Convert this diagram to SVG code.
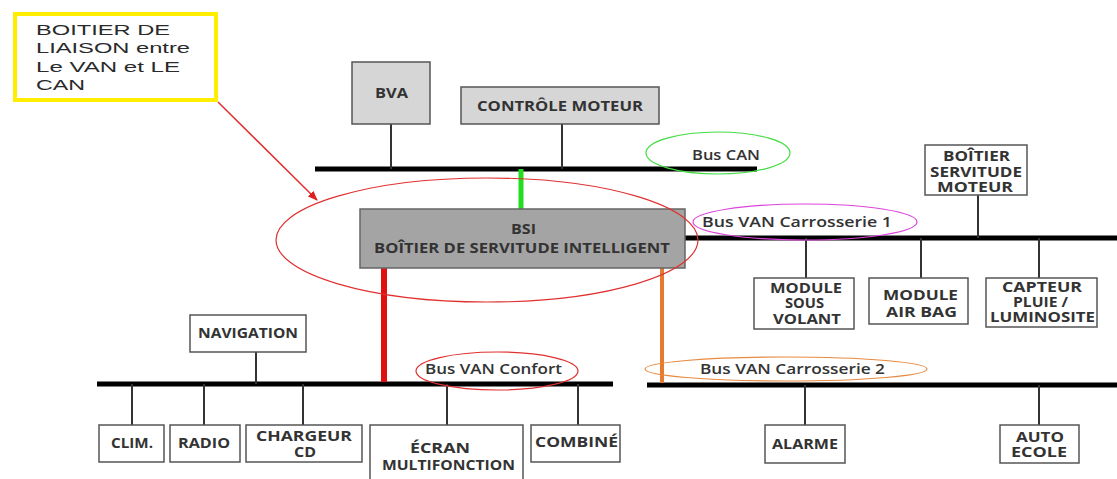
<svg xmlns="http://www.w3.org/2000/svg" width="1117" height="479" viewBox="0 0 1117 479">
<style>
.box{fill:#fff;stroke:#555;stroke-width:1.5}
.gbox{fill:#d6d6d6;stroke:#555;stroke-width:1.5}
.t{font-family:"Open Sans","Liberation Sans",sans-serif;font-weight:700;font-size:13.5px;fill:#333}
.bus{stroke:#000;stroke-width:5;fill:none}
.drop{stroke:#333;stroke-width:2;fill:none}
.lbl{font-family:"Open Sans","Liberation Sans",sans-serif;font-weight:600;font-size:13.5px;fill:#333}
.note{font-family:"Liberation Sans",Arial,sans-serif;font-size:14px;fill:#2a2a2a}
</style>
<defs>
<marker id="ah" markerWidth="10" markerHeight="8" refX="9" refY="4" orient="auto" markerUnits="userSpaceOnUse">
<path d="M0,0 L10,4 L0,8 z" fill="#e02020"/>
</marker>
</defs>
<rect width="1117" height="479" fill="#fff"/>

<g id="connectors">
<line class="bus" x1="315" y1="169" x2="757" y2="169"/>
<line class="bus" x1="685" y1="238" x2="1117" y2="238"/>
<line class="bus" x1="97" y1="384" x2="613" y2="384"/>
<line class="bus" x1="647" y1="385" x2="1117" y2="385"/>
<line class="drop" x1="391" y1="124" x2="391" y2="169"/>
<line class="drop" x1="562" y1="124" x2="562" y2="169"/>
<line class="drop" x1="978" y1="195" x2="978" y2="238"/>
<line class="drop" x1="806" y1="238" x2="806" y2="278"/>
<line class="drop" x1="921" y1="238" x2="921" y2="278"/>
<line class="drop" x1="1039" y1="238" x2="1039" y2="278"/>
<line class="drop" x1="256" y1="352" x2="256" y2="384"/>
<line class="drop" x1="132" y1="384" x2="132" y2="425"/>
<line class="drop" x1="204" y1="384" x2="204" y2="425"/>
<line class="drop" x1="303" y1="384" x2="303" y2="425"/>
<line class="drop" x1="447" y1="384" x2="447" y2="425"/>
<line class="drop" x1="578" y1="384" x2="578" y2="425"/>
<line class="drop" x1="805" y1="385" x2="805" y2="425"/>
<line class="drop" x1="1039" y1="385" x2="1039" y2="425"/>
<line x1="521" y1="169" x2="521" y2="210" stroke="#22dd22" stroke-width="5"/>
<line x1="384" y1="262" x2="384" y2="382" stroke="#e01010" stroke-width="6"/>
<line x1="662" y1="262" x2="662" y2="383" stroke="#e87a30" stroke-width="4"/>
<line x1="218" y1="102" x2="317" y2="200" stroke="#e03030" stroke-width="1.5" marker-end="url(#ah)"/>
</g>

<g id="note">
<rect x="15" y="14" width="201" height="86" fill="#fff" stroke="#ffee00" stroke-width="4"/>
<text class="note" x="36" y="35" textLength="134" lengthAdjust="spacingAndGlyphs">BOITIER DE</text>
<text class="note" x="36" y="53" textLength="154" lengthAdjust="spacingAndGlyphs">LIAISON entre</text>
<text class="note" x="36" y="72" textLength="144" lengthAdjust="spacingAndGlyphs">Le VAN et LE</text>
<text class="note" x="36" y="90" textLength="49" lengthAdjust="spacingAndGlyphs">CAN</text>
</g>

<g id="bva"><rect class="gbox" x="352" y="62" width="78" height="62"/><text class="t" x="375" y="98" textLength="33" lengthAdjust="spacingAndGlyphs">BVA</text></g>
<g id="controle-moteur"><rect class="gbox" x="461" y="87" width="198" height="37"/><text class="t" x="477" y="111" textLength="166" lengthAdjust="spacingAndGlyphs">CONTRÔLE MOTEUR</text></g>

<g id="bus-can-label"><ellipse cx="718" cy="153" rx="72" ry="21" fill="none" stroke="#44dd44" stroke-width="1.2"/><text class="lbl" x="692" y="160" textLength="68" lengthAdjust="spacingAndGlyphs">Bus CAN</text></g>

<g id="bsi">
<rect x="360" y="209" width="325" height="59" fill="#a4a4a4" stroke="#666" stroke-width="1.5"/>
<text class="t" x="511" y="234" textLength="25" lengthAdjust="spacingAndGlyphs">BSI</text>
<text class="t" x="374" y="253" textLength="296" lengthAdjust="spacingAndGlyphs">BOÎTIER DE SERVITUDE INTELLIGENT</text>
</g>
<g id="bsi-highlight"><ellipse cx="487" cy="240" rx="211" ry="62" fill="none" stroke="#e03030" stroke-width="1.2"/></g>

<g id="bus-van-c1-label"><ellipse cx="805" cy="222" rx="112" ry="18" fill="none" stroke="#dd44dd" stroke-width="1.2"/><text class="lbl" x="702" y="227" textLength="190" lengthAdjust="spacingAndGlyphs">Bus VAN Carrosserie 1</text></g>

<g id="bsm"><rect class="box" x="925" y="145" width="102" height="50"/>
<text class="t" x="943" y="161" textLength="67" lengthAdjust="spacingAndGlyphs">BOÎTIER</text>
<text class="t" x="930" y="177" textLength="92" lengthAdjust="spacingAndGlyphs">SERVITUDE</text>
<text class="t" x="937" y="192" textLength="76" lengthAdjust="spacingAndGlyphs">MOTEUR</text></g>
<g id="module-sous-volant"><rect class="box" x="754" y="278" width="100" height="51"/>
<text class="t" x="770" y="293" textLength="72" lengthAdjust="spacingAndGlyphs">MODULE</text>
<text class="t" x="785" y="308" textLength="39" lengthAdjust="spacingAndGlyphs">SOUS</text>
<text class="t" x="773" y="324" textLength="68" lengthAdjust="spacingAndGlyphs">VOLANT</text></g>
<g id="module-air-bag"><rect class="box" x="869" y="278" width="99" height="46"/>
<text class="t" x="883" y="300" textLength="75" lengthAdjust="spacingAndGlyphs">MODULE</text>
<text class="t" x="886" y="317" textLength="71" lengthAdjust="spacingAndGlyphs">AIR BAG</text></g>
<g id="capteur"><rect class="box" x="986" y="278" width="111" height="49"/>
<text class="t" x="1002" y="292" textLength="80" lengthAdjust="spacingAndGlyphs">CAPTEUR</text>
<text class="t" x="1013" y="307" textLength="55" lengthAdjust="spacingAndGlyphs">PLUIE /</text>
<text class="t" x="990" y="322" textLength="105" lengthAdjust="spacingAndGlyphs">LUMINOSITE</text></g>

<g id="navigation"><rect class="box" x="190" y="315" width="116" height="37"/><text class="t" x="198" y="338" textLength="100" lengthAdjust="spacingAndGlyphs">NAVIGATION</text></g>

<g id="bus-van-confort-label"><ellipse cx="497" cy="371" rx="81" ry="19" fill="none" stroke="#e03030" stroke-width="1.2"/><text class="lbl" x="425" y="374" textLength="137" lengthAdjust="spacingAndGlyphs">Bus VAN Confort</text></g>

<g id="clim"><rect class="box" x="99" y="425" width="65" height="37"/><text class="t" x="111" y="448" textLength="42" lengthAdjust="spacingAndGlyphs">CLIM.</text></g>
<g id="radio"><rect class="box" x="170" y="425" width="70" height="37"/><text class="t" x="178" y="448" textLength="52" lengthAdjust="spacingAndGlyphs">RADIO</text></g>
<g id="chargeur"><rect class="box" x="246" y="425" width="116" height="37"/>
<text class="t" x="256" y="441" textLength="96" lengthAdjust="spacingAndGlyphs">CHARGEUR</text>
<text class="t" x="294" y="457" textLength="22" lengthAdjust="spacingAndGlyphs">CD</text></g>
<g id="ecran"><rect class="box" x="370" y="425" width="153" height="56"/>
<text class="t" x="410" y="453" textLength="60" lengthAdjust="spacingAndGlyphs">ÉCRAN</text>
<text class="t" x="382" y="470" textLength="133" lengthAdjust="spacingAndGlyphs">MULTIFONCTION</text></g>
<g id="combine"><rect class="box" x="531" y="425" width="89" height="37"/><text class="t" x="535" y="447" textLength="83" lengthAdjust="spacingAndGlyphs">COMBINÉ</text></g>

<g id="bus-van-c2-label"><ellipse cx="786" cy="369" rx="141" ry="12" fill="none" stroke="#e88a40" stroke-width="1.2"/><text class="lbl" x="700" y="374" textLength="185" lengthAdjust="spacingAndGlyphs">Bus VAN Carrosserie 2</text></g>

<g id="alarme"><rect class="box" x="765" y="425" width="80" height="38"/><text class="t" x="772" y="449" textLength="66" lengthAdjust="spacingAndGlyphs">ALARME</text></g>
<g id="auto-ecole"><rect class="box" x="1000" y="425" width="79" height="38"/>
<text class="t" x="1016" y="442" textLength="48" lengthAdjust="spacingAndGlyphs">AUTO</text>
<text class="t" x="1011" y="457" textLength="56" lengthAdjust="spacingAndGlyphs">ECOLE</text></g>
</svg>
